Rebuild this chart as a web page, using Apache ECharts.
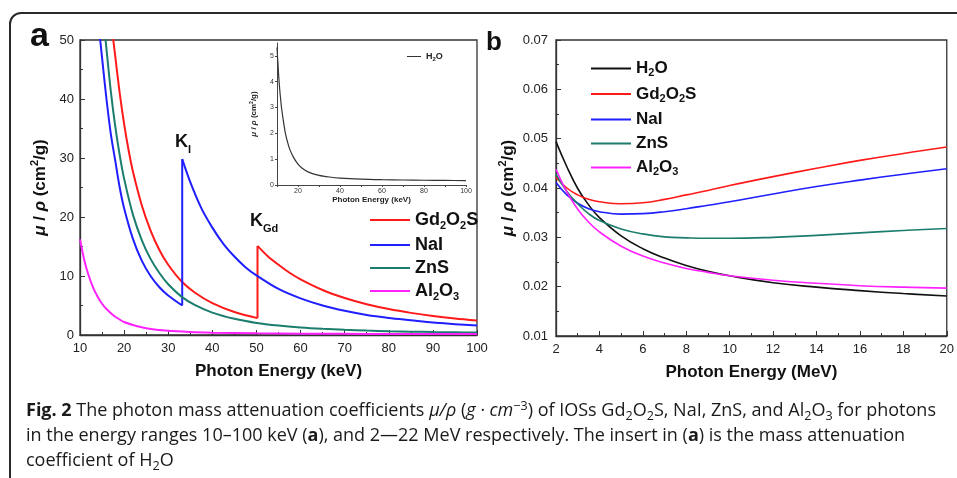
<!DOCTYPE html>
<html>
<head>
<meta charset="utf-8">
<script src="https://cdn.jsdelivr.net/npm/echarts@6/dist/echarts.min.js"></script>
<style>
  body { margin: 0; background: #fff; }
  #wrap { position: relative; width: 957px; height: 478px; overflow: hidden; }
  #main { position: absolute; left: 0; top: 0; width: 957px; height: 478px; }
  #cap { position: absolute; left: 26px; top: 397px; font-family: 'Open Sans', sans-serif;
         font-size: 18px; line-height: 25px; color: #1a1a1a; white-space: nowrap; }
  #cap sub, #cap sup { font-size: 0.7em; line-height: 0; position: relative; vertical-align: baseline; }
  #cap sub { top: 0.3em; }
  #cap sup { top: -0.45em; }
</style>
</head>
<body>
<div id="wrap">
  <div id="main"></div>
  <div id="cap"><b>Fig. 2</b> The photon mass attenuation coefficients <i>μ/ρ</i> (<i>g · cm</i><sup>−3</sup>) of IOSs Gd<sub>2</sub>O<sub>2</sub>S, NaI, ZnS, and Al<sub>2</sub>O<sub>3</sub> for photons<br>in the energy ranges 10–100 keV (<b>a</b>), and 2—22 MeV respectively. The insert in (<b>a</b>) is the mass attenuation<br>coefficient of H<sub>2</sub>O</div>
</div>
<script>
// ---- panel a : 10-100 keV ----
var gdPreE  = [17.3, 18, 19, 20, 21, 22, 24, 26, 28, 30, 33, 36, 40, 45, 50.24];
var gdPreV  = [51.5, 47.2, 41.0, 35.8, 31.4, 27.7, 22.0, 17.7, 14.4, 11.9, 9.1, 7.2, 5.4, 3.9, 2.86];
var gdEdgeV = [2.86, 15.1];
var gdPostE = [50.24, 52.5, 55, 57.5, 60, 65, 70, 75, 80, 85, 90, 95, 100];
var gdPostV = [15.1, 13.4, 11.9, 10.55, 9.44, 7.63, 6.27, 5.22, 4.40, 3.75, 3.22, 2.79, 2.44];

var naiPreE  = [14.3, 15, 16, 17, 18, 19, 20, 22, 24, 26, 28, 30, 33.17];
var naiPreV  = [52.0, 47.0, 40.0, 34.0, 29.5, 25.0, 21.5, 16.3, 12.6, 10.0, 8.1, 6.7, 5.0];
var naiEdgeV = [5.0, 29.8];
var naiPostE = [33.17, 35, 37.5, 40, 42.5, 45, 47.5, 50, 55, 60, 65, 70, 75, 80, 85, 90, 95, 100];
var naiPostV = [29.8, 25.9, 21.5, 18.2, 15.45, 13.3, 11.5, 10.1, 7.8, 6.2, 5.0, 4.1, 3.4, 2.9, 2.5, 2.1, 1.84, 1.6];

var znsE = [15.6, 16, 17, 18, 19, 20, 22, 24, 26, 28, 30, 33, 36, 40, 45, 50, 55, 60, 65, 70, 75, 80, 85, 90, 95, 100];
var znsV = [51.5, 48.5, 41.2, 35.3, 30.5, 26.5, 20.4, 16.1, 12.9, 10.5, 8.6, 6.5, 5.1, 3.8, 2.75, 2.05, 1.6, 1.28, 1.05, 0.88, 0.75, 0.65, 0.57, 0.5, 0.45, 0.41];

var alE = [10, 11, 12, 13, 14, 15, 16, 17, 18, 20, 22, 25, 30, 35, 40, 50, 60, 70, 80, 90, 100];
var alV = [16.2, 12.6, 10.0, 8.0, 6.5, 5.3, 4.4, 3.7, 3.1, 2.2, 1.7, 1.15, 0.7, 0.5, 0.4, 0.28, 0.23, 0.2, 0.18, 0.17, 0.16];

// inset: water 10-100 keV
var h2oKeVE = [10, 11, 12, 13, 14, 15, 16, 18, 20, 22, 25, 30, 35, 40, 50, 60, 70, 80, 90, 100];
var h2oKeVV = [5.33, 4.0, 3.1, 2.5, 2.0, 1.67, 1.4, 1.05, 0.81, 0.65, 0.5, 0.376, 0.31, 0.268, 0.227, 0.206, 0.193, 0.184, 0.177, 0.171];

// ---- panel b : 2-20 MeV ----
var mevE   = [2, 2.5, 3, 3.5, 4, 5, 6, 7, 8, 9, 10, 12, 14, 16, 18, 20];
var h2oV   = [0.0494, 0.0443, 0.0399, 0.0366, 0.0340, 0.0303, 0.0277, 0.0258, 0.0243, 0.0231, 0.0222, 0.0208, 0.0199, 0.0192, 0.0186, 0.0181];
var gdV    = [0.0422, 0.0400, 0.0386, 0.0377, 0.0372, 0.0368, 0.0370, 0.0377, 0.0386, 0.0395, 0.0405, 0.0423, 0.0440, 0.0456, 0.0470, 0.0483];
var naiV   = [0.0411, 0.0386, 0.0369, 0.0358, 0.0352, 0.0347, 0.0348, 0.0352, 0.0358, 0.0365, 0.0372, 0.0388, 0.0403, 0.0416, 0.0428, 0.0439];
var znsMV  = [0.0428, 0.0393, 0.0368, 0.0348, 0.0334, 0.0317, 0.0307, 0.0301, 0.0299, 0.0298, 0.0298, 0.0300, 0.0304, 0.0309, 0.0314, 0.0318];
var alMV   = [0.0438, 0.0392, 0.0357, 0.0331, 0.0311, 0.0282, 0.0262, 0.0248, 0.0237, 0.0229, 0.0222, 0.0213, 0.0207, 0.0202, 0.0199, 0.0197];

var RED = '#ff1a1a', BLUE = '#1f1fff', GREEN = '#1b7d6d', MAG = '#ff22ff', BLACK = '#111';
var FONT = "'Liberation Sans', Arial, sans-serif";

function zip(e, v) { return e.map(function (x, i) { return [x, v[i]]; }); }
function edge(x, v) { return v.map(function (y) { return [x, y]; }); }

var legendNames = {
  'H2O': '{t|H}{s|2}{t|O}',
  'Gd2O2S': '{t|Gd}{s|2}{t|O}{s|2}{t|S}',
  'NaI': '{t|NaI}',
  'ZnS': '{t|ZnS}',
  'Al2O3': '{t|Al}{s|2}{t|O}{s|3}'
};
function legendRich(fs, lh) {
  return {
    t: { fontSize: fs, fontWeight: 'bold', fontFamily: FONT, color: '#111', lineHeight: lh },
    s: { fontSize: Math.round(fs * 0.62), fontWeight: 'bold', fontFamily: FONT, color: '#111', verticalAlign: 'bottom', lineHeight: Math.round(fs * 0.62) }
  };
}

function line(name, color, data, xi, w, sm) {
  return {
    name: name, type: 'line', xAxisIndex: xi, yAxisIndex: xi, data: data,
    symbol: 'none', smooth: sm || 0.3, lineStyle: { color: color, width: w || 2 }, itemStyle: { color: color },
    animation: false
  };
}

function valAxis(o) {
  var base = {
    type: 'value',
    axisLine: { show: true, lineStyle: { color: '#333', width: 1.3 } },
    axisTick: { show: true, inside: true, length: 5, lineStyle: { color: '#333' } },
    minorTick: { show: true, splitNumber: 2, length: 3, lineStyle: { color: '#333' } },
    splitLine: { show: false },
    axisLabel: { color: '#222', fontSize: 13, fontFamily: FONT, margin: 7 },
    nameLocation: 'middle',
    nameTextStyle: {
      fontSize: 17, fontWeight: 'bold', fontFamily: FONT, color: '#111',
      rich: {
        i: { fontSize: 17, fontWeight: 'bold', fontStyle: 'italic', fontFamily: FONT, color: '#111', lineHeight: 22 },
        n: { fontSize: 17, fontWeight: 'bold', fontFamily: FONT, color: '#111', lineHeight: 22 },
        p: { fontSize: 11, fontWeight: 'bold', fontFamily: FONT, color: '#111', verticalAlign: 'top', lineHeight: 11 }
      }
    }
  };
  for (var k in o) base[k] = o[k];
  return base;
}

var yName = '{i|μ}{n| / }{i|ρ}{n| (cm}{p|2}{n|/g)}';

var chart = echarts.init(document.getElementById('main'), null, { renderer: 'canvas' });
chart.setOption({
  backgroundColor: '#fff',
  animation: false,
  grid: [
    { left: 80, top: 40, width: 397, height: 295, show: true, borderColor: '#333', borderWidth: 1.3 },
    { left: 556, top: 40, width: 397, height: 296, show: true, borderColor: '#333', borderWidth: 1.3 },
    { left: 277, top: 43, width: 189, height: 142 }
  ],
  xAxis: [
    valAxis({ gridIndex: 0, min: 10, max: 100, interval: 10, name: 'Photon Energy (keV)', nameGap: 28 }),
    valAxis({ gridIndex: 1, min: 2, max: 20, interval: 2, name: 'Photon Energy (MeV)', nameGap: 28 }),
    valAxis({
      gridIndex: 2, min: 10, max: 100, interval: 10, name: 'Photon Energy (keV)', nameGap: 10,
      axisLine: { show: true, lineStyle: { color: '#444', width: 1 } },
      axisTick: { show: true, inside: false, length: 2, lineStyle: { color: '#444' } },
      minorTick: { show: false },
      axisLabel: { color: '#333', fontSize: 7, fontFamily: FONT, margin: 3, formatter: function (v) { return v % 20 === 0 ? v : ''; } },
      nameTextStyle: { fontSize: 8, fontWeight: 'bold', fontFamily: FONT, color: '#222' }
    })
  ],
  yAxis: [
    valAxis({ gridIndex: 0, min: 0, max: 50, interval: 10, name: yName, nameGap: 29, axisLabel: { color: '#222', fontSize: 13, fontFamily: FONT, margin: 6 } }),
    valAxis({ gridIndex: 1, min: 0.01, max: 0.07, interval: 0.01, name: yName, nameGap: 37, axisLabel: { color: '#222', fontSize: 13, fontFamily: FONT, margin: 8 } }),
    valAxis({
      gridIndex: 2, min: 0, max: 5.5, interval: 1, name: '{i|μ}{n| / }{i|ρ}{n| (cm}{p|2}{n|/g)}', nameGap: 18,
      axisLine: { show: true, lineStyle: { color: '#444', width: 1 } },
      axisTick: { show: true, inside: false, length: 2, lineStyle: { color: '#444' } },
      minorTick: { show: false },
      axisLabel: { color: '#333', fontSize: 7, fontFamily: FONT, margin: 3, showMaxLabel: false },
      nameTextStyle: {
        fontSize: 8, fontWeight: 'bold', fontFamily: FONT, color: '#222',
        rich: {
          i: { fontSize: 8, fontWeight: 'bold', fontStyle: 'italic', fontFamily: FONT, color: '#222', lineHeight: 10 },
          n: { fontSize: 8, fontWeight: 'bold', fontFamily: FONT, color: '#222', lineHeight: 10 },
          p: { fontSize: 5, fontWeight: 'bold', fontFamily: FONT, color: '#222', verticalAlign: 'top', lineHeight: 5 }
        }
      }
    })
  ],
  legend: [
    {
      data: ['Gd2O2S', 'NaI', 'ZnS', 'Al2O3'], orient: 'vertical', left: 370, top: 211, padding: 0,
      itemWidth: 40, itemHeight: 14, itemGap: 5, icon: 'path://M0,6H40V8H0Z',
      formatter: function (n) { return legendNames[n]; },
      textStyle: { rich: legendRich(18, 22) }, selectedMode: false
    },
    {
      data: ['H2O', 'Gd2O2S', 'NaI', 'ZnS', 'Al2O3'], orient: 'vertical', left: 591, top: 60, padding: 0,
      itemWidth: 40, itemHeight: 14, itemGap: 7, icon: 'path://M0,6H40V8H0Z',
      formatter: function (n) { return legendNames[n]; },
      textStyle: { rich: legendRich(17, 20) }, selectedMode: false
    },
    {
      data: ['H2O_inset'], orient: 'vertical', left: 407, top: 52, padding: 0,
      itemWidth: 14, itemHeight: 6, icon: 'path://M0,3H14V4H0Z',
      formatter: function () { return '{t|H}{s|2}{t|O}'; },
      textStyle: { rich: {
        t: { fontSize: 9, fontWeight: 'bold', fontFamily: FONT, color: '#222', lineHeight: 12 },
        s: { fontSize: 6, fontWeight: 'bold', fontFamily: FONT, color: '#222', verticalAlign: 'bottom', lineHeight: 6 }
      } }, itemGap: 2, selectedMode: false
    }
  ],
  series: [
    line('Gd2O2S', RED, zip(gdPreE, gdPreV), 0),
    line('Gd2O2S', RED, edge(50.24, gdEdgeV), 0),
    line('Gd2O2S', RED, zip(gdPostE, gdPostV), 0),
    line('NaI', BLUE, zip(naiPreE, naiPreV), 0),
    line('NaI', BLUE, edge(33.17, naiEdgeV), 0),
    line('NaI', BLUE, zip(naiPostE, naiPostV), 0),
    line('ZnS', GREEN, zip(znsE, znsV), 0),
    line('Al2O3', MAG, zip(alE, alV), 0),

    line('H2O', BLACK, zip(mevE, h2oV), 1, 1.6, 0.45),
    line('Gd2O2S', RED, zip(mevE, gdV), 1, 1.6, 0.45),
    line('NaI', BLUE, zip(mevE, naiV), 1, 1.6, 0.45),
    line('ZnS', GREEN, zip(mevE, znsMV), 1, 1.6, 0.45),
    line('Al2O3', MAG, zip(mevE, alMV), 1, 1.6, 0.45),

    line('H2O_inset', '#333', zip(h2oKeVE, h2oKeVV), 2, 1.2)
  ],
  graphic: [
    { type: 'rect', shape: { x: 10, y: 13, width: 1200, height: 700, r: 11 }, style: { fill: 'none', stroke: '#2a2a2a', lineWidth: 2 }, silent: true },
    { type: 'text', left: 30, top: 20, style: { text: 'a', font: "bold 34px " + FONT, fill: '#111' } },
    { type: 'text', left: 486, top: 30, style: { text: 'b', font: "bold 26px " + FONT, fill: '#111' } },
    { type: 'text', left: 175, top: 133, style: { text: '{k|K}{s|I}', rich: {
        k: { fontSize: 18, fontWeight: 'bold', fontFamily: FONT, fill: '#111', lineHeight: 26 },
        s: { fontSize: 11, fontWeight: 'bold', fontFamily: FONT, fill: '#111', verticalAlign: 'bottom', lineHeight: 11 } } } },
    { type: 'text', left: 250, top: 212, style: { text: '{k|K}{s|Gd}', rich: {
        k: { fontSize: 18, fontWeight: 'bold', fontFamily: FONT, fill: '#111', lineHeight: 26 },
        s: { fontSize: 11, fontWeight: 'bold', fontFamily: FONT, fill: '#111', verticalAlign: 'bottom', lineHeight: 11 } } } }
  ]
});
</script>
</body>
</html>
